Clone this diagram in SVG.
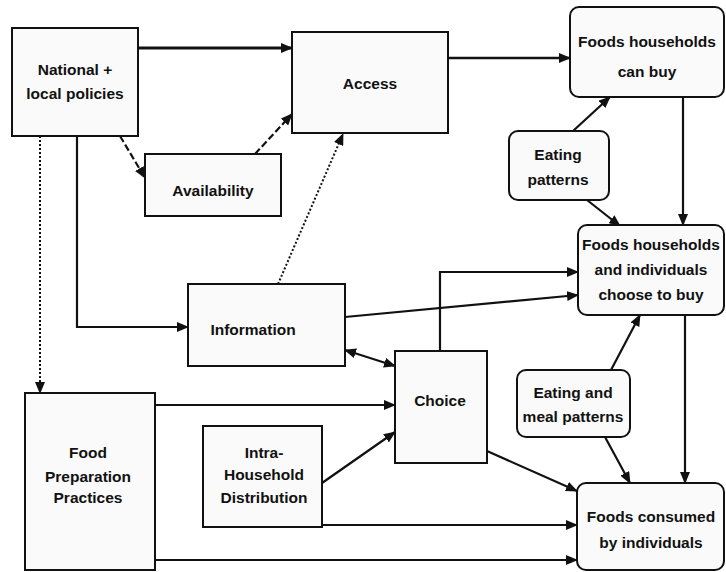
<svg xmlns="http://www.w3.org/2000/svg" width="726" height="572" viewBox="0 0 726 572">
<style>
.box{fill:#fafafa;stroke:#111;stroke-width:2}
.t{font-family:"Liberation Sans",Arial,sans-serif;font-size:15.5px;font-weight:bold;fill:#111;text-anchor:middle}
.c{fill:none;stroke:#111;stroke-width:2.2;marker-end:url(#ah)}
.dash{stroke-dasharray:7 3}
.dot{stroke-dasharray:2 2;stroke-width:2}
</style>
<defs>
<marker id="ah" viewBox="0 0 12 10" refX="11" refY="5" markerWidth="12" markerHeight="10" markerUnits="userSpaceOnUse" orient="auto-start-reverse">
<path d="M0,0 L12,5 L0,10 z" fill="#111"/>
</marker>
</defs>
<rect width="726" height="572" fill="#fff"/>
<g id="connectors">
<path class="c" d="M138,48 L292,48" style="stroke-width:3"/>
<path class="c" d="M448,58 L570,58" style="stroke-width:2.6"/>
<path class="c dash" d="M120,136 L145,178"/>
<path class="c dash" d="M255,154 L292,114"/>
<path class="c dot" d="M278,284 L343,134"/>
<path class="c dot" d="M40,136 L40,393"/>
<path class="c" d="M77,136 L77,327 L188,327"/>
<path class="c" d="M345,317 L578,295"/>
<path class="c" d="M440,351 L440,272 L578,272"/>
<path class="c" d="M345,350 L395,366" style="marker-start:url(#ah)"/>
<path class="c" d="M155,405 L395,405"/>
<path class="c" d="M322,483 L395,432"/>
<path class="c" d="M322,525 L577,525"/>
<path class="c" d="M155,560 L577,560"/>
<path class="c" d="M487,451 L577,491"/>
<path class="c" d="M573,131 L610,97"/>
<path class="c" d="M587,200 L620,226"/>
<path class="c" d="M683,97 L683,225"/>
<path class="c" d="M611,370 L640,315"/>
<path class="c" d="M605,437 L630,483"/>
<path class="c" d="M685,315 L685,483"/>
</g>
<g id="national">
<rect class="box" x="12" y="28" width="126" height="108"/>
<text class="t" x="75" y="75">National +</text>
<text class="t" x="75" y="99">local policies</text>
</g>
<g id="access">
<rect class="box" x="292" y="32" width="156" height="101"/>
<text class="t" x="370" y="89">Access</text>
</g>
<g id="availability">
<rect class="box" x="145" y="154" width="136" height="62"/>
<text class="t" x="213" y="196">Availability</text>
</g>
<g id="information">
<rect class="box" x="188" y="284" width="157" height="82"/>
<text class="t" x="253" y="335">Information</text>
</g>
<g id="choice">
<rect class="box" x="395" y="351" width="92" height="112"/>
<text class="t" x="440" y="406">Choice</text>
</g>
<g id="foodprep">
<rect class="box" x="25" y="393" width="130" height="177"/>
<text class="t" x="88" y="458">Food</text>
<text class="t" x="88" y="482">Preparation</text>
<text class="t" x="88" y="503">Practices</text>
</g>
<g id="intra">
<rect class="box" x="203" y="426" width="119" height="101"/>
<text class="t" x="264" y="458">Intra-</text>
<text class="t" x="264" y="480">Household</text>
<text class="t" x="264" y="503">Distribution</text>
</g>
<g id="canbuy">
<rect class="box" x="570" y="7" width="154" height="90" rx="9"/>
<text class="t" x="647" y="47">Foods households</text>
<text class="t" x="647" y="77">can buy</text>
</g>
<g id="eating">
<rect class="box" x="509" y="131" width="100" height="69" rx="9"/>
<text class="t" x="558" y="160">Eating</text>
<text class="t" x="558" y="185">patterns</text>
</g>
<g id="choose">
<rect class="box" x="578" y="225" width="146" height="90" rx="9"/>
<text class="t" x="651" y="250">Foods households</text>
<text class="t" x="651" y="275">and individuals</text>
<text class="t" x="651" y="300">choose to buy</text>
</g>
<g id="meal">
<rect class="box" x="517" y="370" width="113" height="67" rx="9"/>
<text class="t" x="573" y="398">Eating and</text>
<text class="t" x="573" y="422">meal patterns</text>
</g>
<g id="consumed">
<rect class="box" x="577" y="483" width="147" height="87" rx="9"/>
<text class="t" x="651" y="522">Foods consumed</text>
<text class="t" x="651" y="548">by individuals</text>
</g>
</svg>
